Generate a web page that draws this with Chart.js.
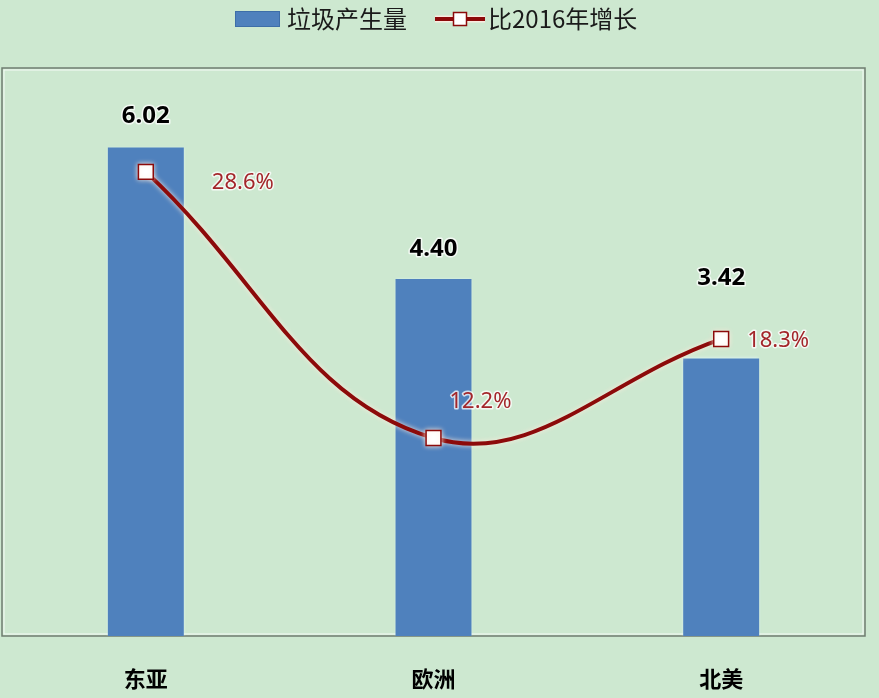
<!DOCTYPE html>
<html>
<head>
<meta charset="utf-8">
<script src="https://cdn.jsdelivr.net/npm/chart.js@4"></script>
<style>
  html, body { margin: 0; padding: 0; background: #cde8d0; }
  #wrap { width: 879px; height: 698px; position: relative; }
</style>
</head>
<body>
<div id="wrap"><canvas id="c" width="879" height="698"></canvas></div>
<script>
// ---- data ----
const categories = ['东亚', '欧洲', '北美'];
const wasteValues = [6.02, 4.40, 3.42];
const growthValues = [28.6, 12.2, 18.3];
const seriesNames = ['垃圾产生量', '比2016年增长'];
const growthLabels = ['28.6%', '12.2%', '18.3%'];
const wasteLabels = ['6.02', '4.40', '3.42'];

// ---- styles ----
const BAR_COLOR = '#4F81BD';
const LINE_COLOR = '#8c0a0a';
const LABEL_RED = '#a3262a';
const CJK = '"Noto Sans CJK SC", "Noto Sans", sans-serif';
const NUM = '"Noto Sans", "Noto Sans CJK SC", sans-serif';

// label placement (pixel offsets from the mark)
const barLabelOffsetY = [-31, -30, -80];
const lineLabelOffset = [[97, 11], [47, -36], [57, 2]];

const bgAndFrame = {
  id: 'bgAndFrame',
  beforeDraw(chart) {
    const ctx = chart.ctx;
    ctx.save();
    ctx.fillStyle = '#cde8d0';
    ctx.fillRect(0, 0, chart.width, chart.height);
    ctx.restore();
  },
  beforeDatasetsDraw(chart) {
    const { ctx, chartArea: a } = chart;
    ctx.save();
    ctx.strokeStyle = '#6f7c70';
    ctx.lineWidth = 1.5;
    ctx.strokeRect(a.left, a.top, a.right - a.left, a.bottom - a.top);
    ctx.strokeStyle = 'rgba(255,255,255,0.8)';
    ctx.lineWidth = 1;
    ctx.strokeRect(a.left + 2, a.top + 2, a.right - a.left - 4, a.bottom - a.top - 4);
    ctx.restore();
  }
};

const glow = {
  id: 'glow',
  beforeDatasetDraw(chart, args) {
    const ctx = chart.ctx;
    ctx.save();
    if (args.meta.type === 'line') {
      ctx.shadowColor = 'rgba(255,235,220,0.95)';
      ctx.shadowBlur = 5;
    } else {
      ctx.shadowColor = 'rgba(225,250,255,0.9)';
      ctx.shadowBlur = 3;
    }
  },
  afterDatasetDraw(chart) {
    chart.ctx.restore();
  }
};

function haloText(ctx, text, x, y) {
  ctx.save();
  ctx.strokeStyle = 'rgba(255,255,255,0.75)';
  ctx.lineWidth = 3;
  ctx.lineJoin = 'round';
  ctx.strokeText(text, x, y);
  ctx.restore();
  ctx.fillText(text, x, y);
}

// custom legend (series names drawn as text)
const customLegend = {
  id: 'customLegend',
  afterDraw(chart) {
    const ctx = chart.ctx;
    const cy = 19;
    ctx.save();
    ctx.fillStyle = BAR_COLOR;
    ctx.fillRect(235, 11, 45, 16);
    ctx.strokeStyle = '#3d6ea8';
    ctx.lineWidth = 1;
    ctx.strokeRect(235.5, 11.5, 44, 15);
    ctx.strokeStyle = 'rgba(255,235,225,0.9)';
    ctx.lineWidth = 7;
    ctx.beginPath(); ctx.moveTo(435, cy); ctx.lineTo(485, cy); ctx.stroke();
    ctx.strokeStyle = LINE_COLOR;
    ctx.lineWidth = 4;
    ctx.beginPath(); ctx.moveTo(435, cy); ctx.lineTo(485, cy); ctx.stroke();
    ctx.fillStyle = '#ffffff';
    ctx.fillRect(453.5, cy - 6.5, 13, 13);
    ctx.strokeStyle = LINE_COLOR;
    ctx.lineWidth = 1.5;
    ctx.strokeRect(453.5, cy - 6.5, 13, 13);
    ctx.fillStyle = '#1a1a1a';
    ctx.font = '24px ' + CJK;
    ctx.textAlign = 'left';
    ctx.textBaseline = 'middle';
    ctx.fillText(seriesNames[0], 287, cy);
    ctx.fillText(seriesNames[1], 488, cy);
    ctx.restore();
  }
};

const valueLabels = {
  id: 'valueLabels',
  afterDatasetsDraw(chart) {
    const ctx = chart.ctx;
    const barMeta = chart.getDatasetMeta(1);
    const lineMeta = chart.getDatasetMeta(0);
    ctx.save();
    ctx.textAlign = 'center';
    ctx.textBaseline = 'middle';
    ctx.font = 'bold 24px ' + NUM;
    ctx.fillStyle = '#000000';
    barMeta.data.forEach((el, i) => {
      haloText(ctx, wasteLabels[i], el.x, el.y + barLabelOffsetY[i]);
    });
    ctx.font = '22px ' + NUM;
    ctx.fillStyle = LABEL_RED;
    lineMeta.data.forEach((el, i) => {
      haloText(ctx, growthLabels[i], el.x + lineLabelOffset[i][0], el.y + lineLabelOffset[i][1]);
    });
    ctx.restore();
  }
};

new Chart(document.getElementById('c'), {
  type: 'bar',
  data: {
    labels: categories,
    datasets: [
      {
        type: 'line',
        label: seriesNames[1],
        data: growthValues,
        yAxisID: 'y1',
        borderColor: LINE_COLOR,
        borderWidth: 4,
        tension: 0.4,
        pointStyle: 'rect',
        pointRadius: 10.5,
        pointHoverRadius: 10.5,
        pointBackgroundColor: '#ffffff',
        pointBorderColor: LINE_COLOR,
        pointBorderWidth: 1.5,
        order: 1
      },
      {
        type: 'bar',
        label: seriesNames[0],
        data: wasteValues,
        yAxisID: 'y',
        backgroundColor: BAR_COLOR,
        borderWidth: 0,
        barPercentage: 0.264,
        categoryPercentage: 1,
        order: 2
      }
    ]
  },
  options: {
    responsive: false,
    animation: false,
    layout: { autoPadding: false, padding: { left: 2, right: 14, top: 68, bottom: 0 } },
    plugins: {
      tooltip: { enabled: false },
      legend: { display: false }
    },
    scales: {
      x: {
        grid: { display: false, drawTicks: false },
        border: { display: false },
        ticks: { color: '#000000', padding: 29, font: { size: 22, weight: 'bold', family: CJK } },
        afterFit(scale) {
          scale.height = 62;
          scale.paddingLeft = 0;
          scale.paddingRight = 0;
        }
      },
      y: { display: false, min: 0, max: 7 },
      y1: { display: false, min: 0, max: 35, position: 'right' }
    }
  },
  plugins: [bgAndFrame, glow, valueLabels, customLegend]
});
</script>
</body>
</html>
